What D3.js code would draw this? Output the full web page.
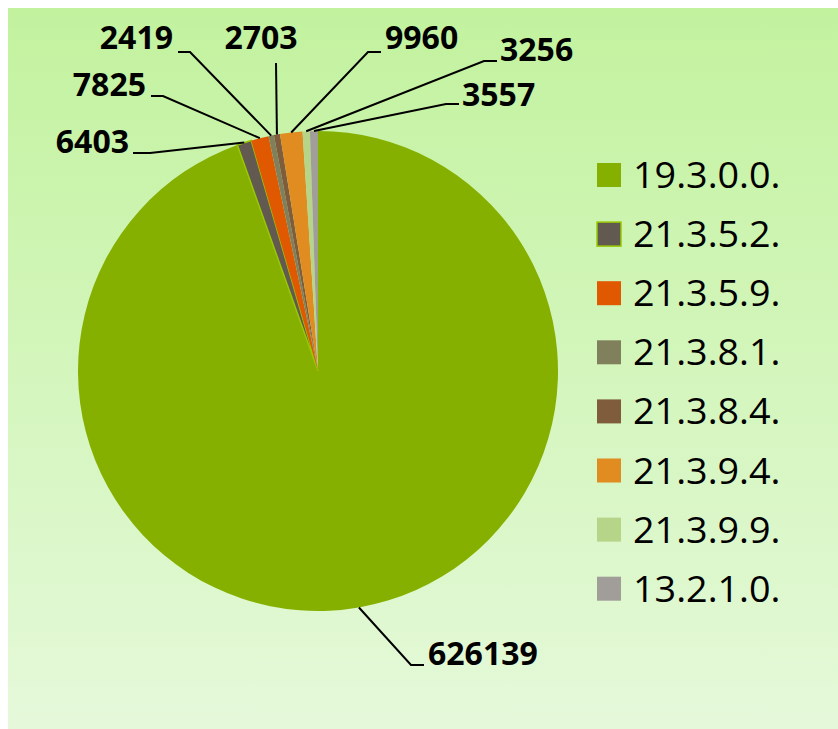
<!DOCTYPE html>
<html>
<head>
<meta charset="utf-8">
<script src="https://cdn.jsdelivr.net/npm/d3@7"></script>
<style>
  body { margin: 0; background: #fff; }
  svg { display: block; }
</style>
</head>
<body>
<div class="piechart"></div>
<script>
// Categories and values of the pie
var codes = ["19.3.0.0.", "21.3.5.2.", "21.3.5.9.", "21.3.8.1.", "21.3.8.4.", "21.3.9.4.", "21.3.9.9.", "13.2.1.0."];
var counts = [626139, 6403, 7825, 2419, 2703, 9960, 3256, 3557];
var colors = ["#85b000", "#625a50", "#e05800", "#80805c", "#7f5c3c", "#e08c20", "#b6d589", "#a19d98"];
var borders = [null, "#99c800", null, null, null, null, null, null];

// Where each data label sits (placed by hand in the original):
// text x, baseline, anchor, elbow x, elbow y, end of the short horizontal
var labelSpots = [
  [428, 665, "start", 411, 665, 424],
  [129, 153, "end",   150, 153, 133],
  [146, 96,  "end",   163, 96,  151],
  [173, 49,  "end",   190, 52,  178],
  [261, 49,  "middle",276, 63,  276],
  [385, 49,  "start", 368, 52,  381],
  [500, 61,  "start", 484, 61,  497],
  [462, 106, "start", 446, 104, 459]
];

var width = 838, height = 729;
var cx = 318, cy = 371, radius = 240;

var data = codes.map(function(c, i) {
  return { code: c, value: counts[i], color: colors[i], border: borders[i], spot: labelSpots[i] };
});

var svg = d3.select(".piechart").append("svg")
  .attr("width", width)
  .attr("height", height);

// background panel with a vertical green fade
var grad = svg.append("defs").append("linearGradient")
  .attr("id", "bg")
  .attr("x1", 0).attr("y1", 0).attr("x2", 0).attr("y2", 1);
grad.append("stop").attr("offset", "0%").attr("stop-color", "#c2f29e");
grad.append("stop").attr("offset", "100%").attr("stop-color", "#e5f9da");

svg.append("rect")
  .attr("x", 8).attr("y", 8)
  .attr("width", width - 8).attr("height", height - 8)
  .attr("fill", "url(#bg)");

var pie = d3.pie()
  .sort(null)
  .value(function(d) { return d.value; });

var arc = d3.arc()
  .innerRadius(0)
  .outerRadius(radius);

var gPie = svg.append("g")
  .attr("transform", "translate(" + cx + "," + cy + ")");

var arcs = pie(data);

gPie.selectAll(".slice")
  .data(arcs)
  .enter().append("path")
    .attr("class", "slice")
    .attr("d", arc)
    .attr("fill", function(d) { return d.data.color; })
    .attr("stroke", function(d) { return d.data.border || "none"; })
    .attr("stroke-width", 1.5);

// leader lines: from the middle of the outer edge to the label
svg.selectAll(".leader")
  .data(arcs)
  .enter().append("polyline")
    .attr("class", "leader")
    .attr("fill", "none")
    .attr("stroke", "#000")
    .attr("stroke-width", 2)
    .attr("points", function(d) {
      var a = (d.startAngle + d.endAngle) / 2;
      var px = cx + radius * Math.sin(a),
          py = cy - radius * Math.cos(a);
      var s = d.data.spot;
      return [[px, py], [s[3], s[4]], [s[5], s[4]]].join(" ");
    });

svg.selectAll(".value")
  .data(arcs)
  .enter().append("text")
    .attr("class", "value")
    .attr("x", function(d) { return d.data.spot[0]; })
    .attr("y", function(d) { return d.data.spot[1]; })
    .attr("text-anchor", function(d) { return d.data.spot[2]; })
    .style("font-family", "'Open Sans', sans-serif")
    .style("font-weight", "bold")
    .style("font-size", "32px")
    .attr("fill", "#000")
    .text(function(d) { return d.data.value; });

// legend
var legend = svg.append("g")
  .attr("transform", "translate(597,163)");

var rows = legend.selectAll(".row")
  .data(data)
  .enter().append("g")
    .attr("class", "row")
    .attr("transform", function(d, i) { return "translate(0," + (i * 59.1) + ")"; });

rows.append("rect")
  .attr("width", 24)
  .attr("height", 24)
  .attr("fill", function(d) { return d.color; })
  .attr("stroke", function(d) { return d.border || "none"; })
  .attr("stroke-width", 1.5);

rows.append("text")
  .attr("transform", "translate(36,25) scale(1.02,1)")
  .style("font-family", "'Open Sans', sans-serif")
  .style("font-size", "37px")
  .attr("fill", "#000")
  .text(function(d) { return d.code; });
</script>
</body>
</html>
